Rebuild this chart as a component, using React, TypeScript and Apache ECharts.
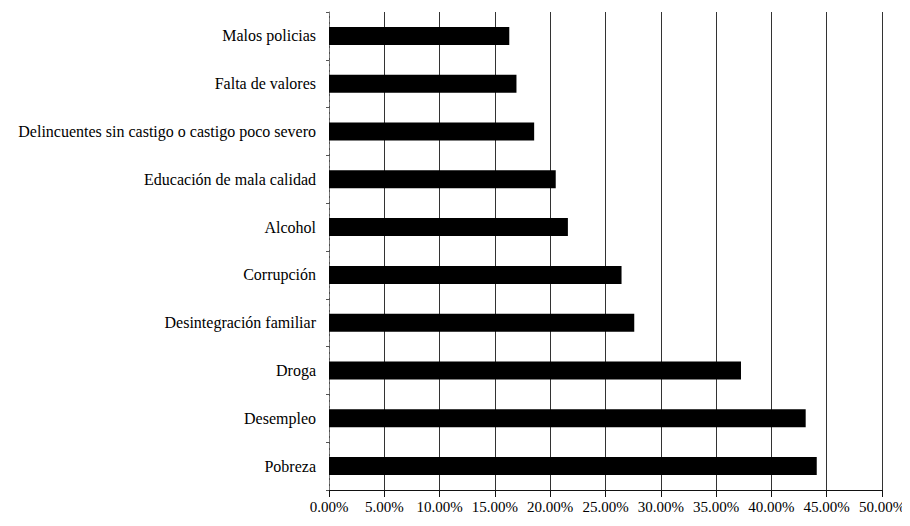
import React, { useEffect, useRef } from "react";
import * as echarts from "echarts";

const categories = [
  "Pobreza",
  "Desempleo",
  "Droga",
  "Desintegración familiar",
  "Corrupción",
  "Alcohol",
  "Educación de mala calidad",
  "Delincuentes sin castigo o castigo poco severo",
  "Falta de valores",
  "Malos policias",
];
const values = [44.1, 43.1, 37.25, 27.6, 26.45, 21.6, 20.5, 18.55, 16.95, 16.3];
const xTicks = [0, 5, 10, 15, 20, 25, 30, 35, 40, 45, 50];

const FONT = "'Liberation Serif', 'Times New Roman', serif";

export default function App() {
  const ref = useRef<HTMLDivElement>(null);
  useEffect(() => {
    if (!ref.current) return;
    const chart = echarts.init(ref.current, null, { renderer: "svg" });
    chart.setOption({
      animation: false,
      backgroundColor: "#ffffff",
      textStyle: { fontFamily: FONT },
      grid: { left: 329, right: 28, top: 12, bottom: 36, containLabel: false },
      xAxis: {
        type: "value",
        min: xTicks[0],
        max: xTicks[xTicks.length - 1],
        interval: 5,
        axisLine: { show: true, lineStyle: { color: "#111", width: 1 } },
        axisTick: { show: true, length: 7, lineStyle: { color: "#111" } },
        axisLabel: {
          color: "#000",
          fontFamily: FONT,
          fontSize: 15,
          margin: 9,
          formatter: (v: number) => v.toFixed(2) + "%",
        },
        splitLine: { show: true, lineStyle: { color: "#333", width: 1 } },
      },
      yAxis: {
        type: "category",
        data: categories,
        axisLine: { show: true, lineStyle: { color: "#777", width: 1, type: "dashed" } },
        axisTick: { show: true, length: 3, lineStyle: { color: "#555" } },
        axisLabel: {
          color: "#000",
          fontFamily: FONT,
          fontSize: 16,
          margin: 13,
        },
      },
      series: [
        {
          type: "bar",
          data: values,
          barWidth: 18,
          itemStyle: { color: "#000000" },
        },
      ],
    });
    return () => chart.dispose();
  }, []);
  return <div ref={ref} style={{ width: 910, height: 526, marginLeft: -8, marginTop: -8 }} />;
}
